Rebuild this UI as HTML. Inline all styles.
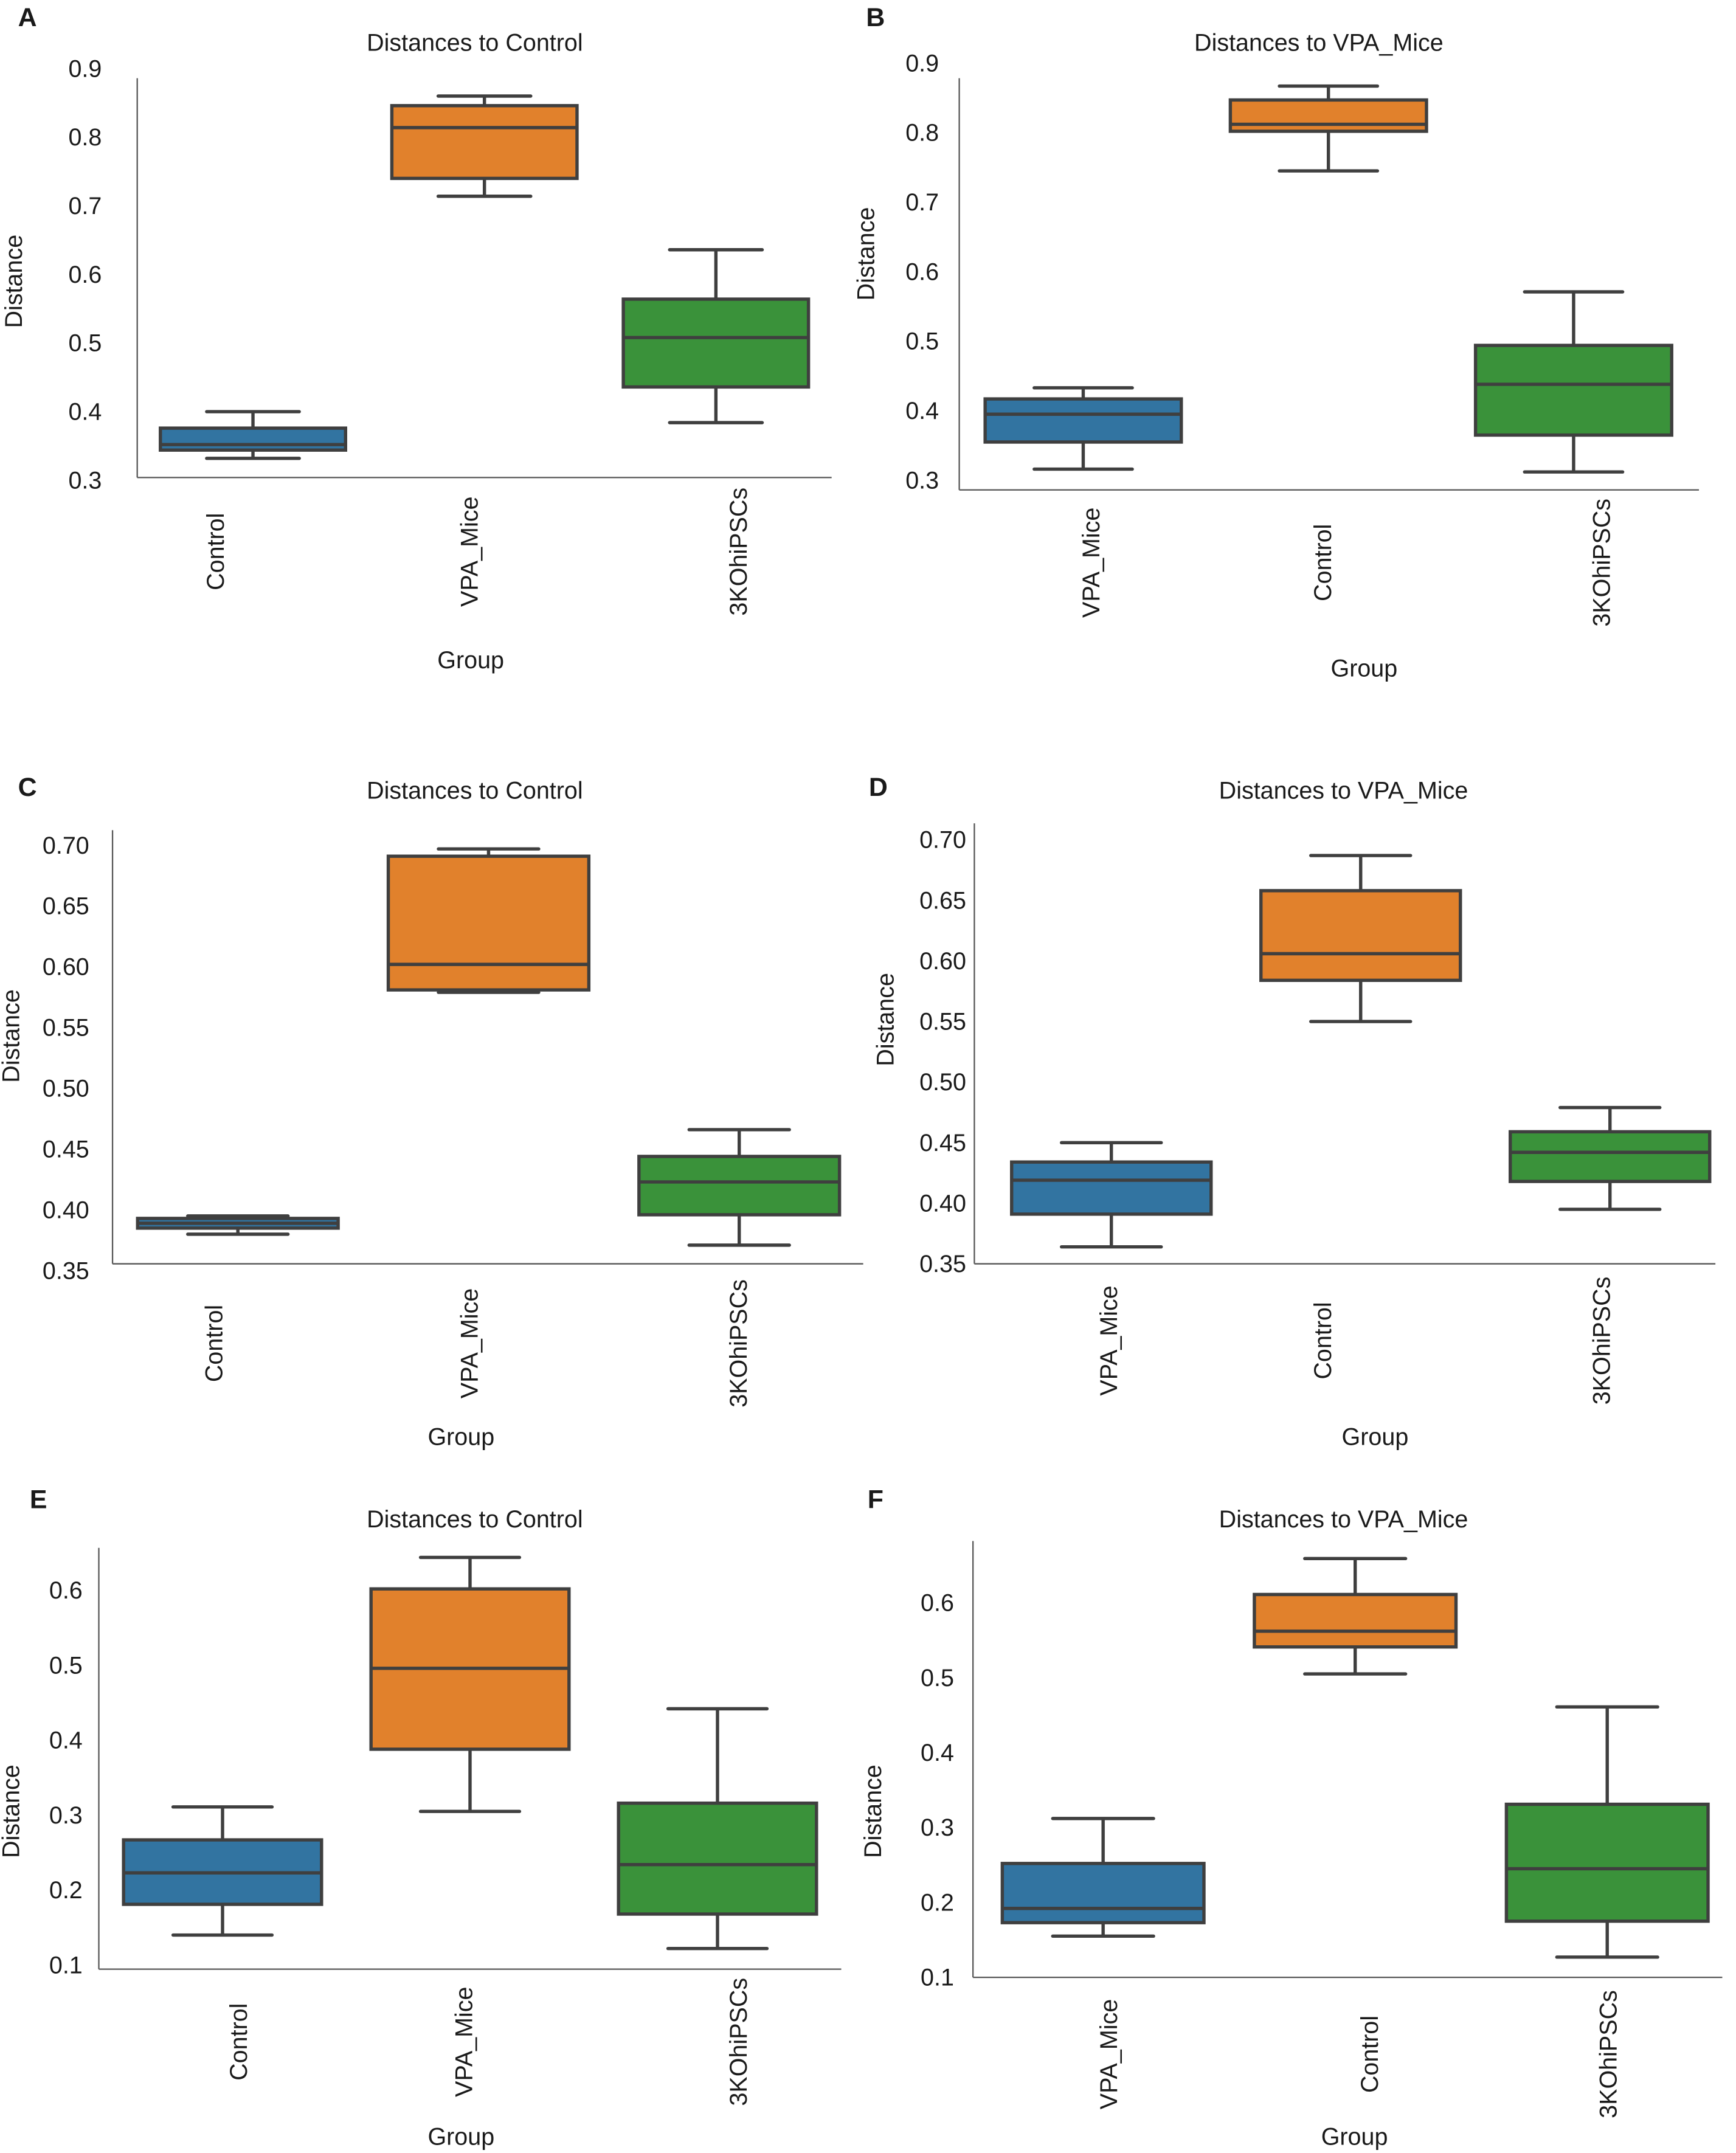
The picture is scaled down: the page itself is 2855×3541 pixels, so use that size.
<!DOCTYPE html>
<html><head><meta charset="utf-8"><style>
html,body{margin:0;padding:0;background:#fff}
svg{display:block}
text{font-family:"Liberation Sans",Arial,sans-serif;fill:#1a1a1a}
</style></head><body>
<svg id="fig" width="2855" height="3541" viewBox="0 0 1265 1569" preserveAspectRatio="none" xmlns="http://www.w3.org/2000/svg"></svg>
<script>
// ---- data ----
const catsA = ["Control","VPA_Mice","3KOhiPSCs"];
const statsA = [[0.332,0.344,0.352,0.376,0.400],[0.714,0.740,0.814,0.846,0.860],[0.384,0.436,0.508,0.564,0.636]];
const ticksA = ["0.9","0.8","0.7","0.6","0.5","0.4","0.3"];
const catsB = ["VPA_Mice","Control","3KOhiPSCs"];
const statsB = [[0.316,0.355,0.395,0.417,0.433],[0.745,0.802,0.812,0.847,0.867],[0.312,0.365,0.438,0.494,0.571]];
const ticksB = ["0.9","0.8","0.7","0.6","0.5","0.4","0.3"];
const catsC = ["Control","VPA_Mice","3KOhiPSCs"];
const statsC = [[0.380,0.385,0.389,0.393,0.395],[0.579,0.581,0.602,0.691,0.697],[0.371,0.396,0.423,0.444,0.466]];
const ticksC = ["0.70","0.65","0.60","0.55","0.50","0.45","0.40","0.35"];
const catsD = ["VPA_Mice","Control","3KOhiPSCs"];
const statsD = [[0.364,0.391,0.419,0.434,0.450],[0.550,0.584,0.606,0.658,0.687],[0.395,0.418,0.442,0.459,0.479]];
const ticksD = ["0.70","0.65","0.60","0.55","0.50","0.45","0.40","0.35"];
const catsE = ["Control","VPA_Mice","3KOhiPSCs"];
const statsE = [[0.140,0.181,0.223,0.267,0.311],[0.305,0.388,0.496,0.602,0.644],[0.122,0.168,0.234,0.316,0.442]];
const ticksE = ["0.6","0.5","0.4","0.3","0.2","0.1"];
const catsF = ["VPA_Mice","Control","3KOhiPSCs"];
const statsF = [[0.155,0.173,0.192,0.252,0.312],[0.505,0.541,0.562,0.611,0.659],[0.127,0.175,0.245,0.331,0.461]];
const ticksF = ["0.6","0.5","0.4","0.3","0.2","0.1"];

const palette = ["#3274a1","#e1812c","#3a923a"];
const NS="http://www.w3.org/2000/svg";
const svg=document.getElementById('fig');
const FS=17.5;
function mk(tag,attrs,parent){const e=document.createElementNS(NS,tag);for(const k in attrs)e.setAttribute(k,attrs[k]);(parent||svg).appendChild(e);return e;}

function panel(p){
  const g=mk('g',{});
  
  
  const ys=v=>p.y0+(v-p.v0)*(p.y1-p.y0)/(p.v1-p.v0);
  let t=mk('text',{x:p.letter[0],y:p.letter[1]+7,'font-size':19,'font-weight':'bold','text-anchor':'middle'},g);t.textContent=p.id;
  
  t=mk('text',{x:p.title[0],y:p.title[1]+6,'font-size':FS,'text-anchor':'middle'},g);t.textContent=p.titleText;
  
  let l=mk('line',{x1:p.ax.l,y1:p.ax.t,x2:p.ax.l,y2:p.ax.b,stroke:'#555','stroke-width':1},g);
  
  l=mk('line',{x1:p.ax.l,y1:p.ax.b,x2:p.ax.r,y2:p.ax.b,stroke:'#555','stroke-width':1},g);
  
  p.ticks.forEach(s=>{
    const tt=mk('text',{x:p.tickX,y:ys(parseFloat(s))+6,'font-size':FS,'text-anchor':'middle'},g);tt.textContent=s;
    
  });
  const n=p.cats.length, step=(p.xr-p.xl)/n, bw=step*0.8;
  p.cats.forEach((c,i)=>{
    const cx=p.xl+step*(i+0.5);
    const s=p.stats[i];
    const bg=mk('g',{},g);
    
    const st={stroke:'#3f3f3f','stroke-width':2.4};
    mk('line',Object.assign({x1:cx,x2:cx,y1:ys(s[0]),y2:ys(s[1])},st),bg);
    mk('line',Object.assign({x1:cx,x2:cx,y1:ys(s[3]),y2:ys(s[4])},st),bg);
    mk('line',Object.assign({x1:cx-bw/4,x2:cx+bw/4,y1:ys(s[0]),y2:ys(s[0]),'stroke-linecap':'round'},st),bg);
    mk('line',Object.assign({x1:cx-bw/4,x2:cx+bw/4,y1:ys(s[4]),y2:ys(s[4]),'stroke-linecap':'round'},st),bg);
    mk('rect',Object.assign({x:cx-bw/2,y:ys(s[3]),width:bw,height:Math.max(ys(s[1])-ys(s[3]),1),fill:palette[i]},st),bg);
    mk('line',Object.assign({x1:cx-bw/2,x2:cx+bw/2,y1:ys(s[2]),y2:ys(s[2])},st),bg);
    const lx=p.labX[i];
    const ct=mk('text',{x:0,y:0,'font-size':FS,'text-anchor':'middle',transform:`translate(${lx+6},${p.catY}) rotate(-90)`},g);ct.textContent=c;
    
  });
  t=mk('text',{x:p.group[0],y:p.group[1]+6,'font-size':FS,'text-anchor':'middle'},g);t.textContent='Group';
  
  t=mk('text',{x:0,y:0,'font-size':FS,'text-anchor':'middle',transform:`translate(${p.dist[0]+6},${p.dist[1]}) rotate(-90)`},g);t.textContent='Distance';
  
}

panel({id:'A',letter:[20,12],title:[346,31],titleText:'Distances to Control',ax:{l:100,t:57,b:348,r:606},xl:100,xr:606,v0:0.3,y0:350,v1:0.9,y1:50,ticks:ticksA,tickX:62,cats:catsA,stats:statsA,labX:[157,342,538],catY:402,group:[343,481],dist:[10,205]});
panel({id:'B',letter:[638,12],title:[961,31],titleText:'Distances to VPA_Mice',ax:{l:699,t:57,b:357,r:1238},xl:700,xr:1236,v0:0.3,y0:350,v1:0.9,y1:46,ticks:ticksB,tickX:672,cats:catsB,stats:statsB,labX:[795,964,1167],catY:410,group:[994,487],dist:[631,185]});
panel({id:'C',letter:[20,573],title:[346,576],titleText:'Distances to Control',ax:{l:82,t:605,b:921,r:629},xl:82,xr:630,v0:0.35,y0:926,v1:0.70,y1:616,ticks:ticksC,tickX:48,cats:catsC,stats:statsC,labX:[156,342,538],catY:979,group:[336,1047],dist:[8,755]});
panel({id:'D',letter:[640,573],title:[979,576],titleText:'Distances to VPA_Mice',ax:{l:710,t:600,b:921,r:1250},xl:719,xr:1264,v0:0.35,y0:921,v1:0.70,y1:612,ticks:ticksD,tickX:687,cats:catsD,stats:statsD,labX:[808,964,1167],catY:977,group:[1002,1047],dist:[645,743]});
panel({id:'E',letter:[28,1092],title:[346,1107],titleText:'Distances to Control',ax:{l:72,t:1128,b:1435,r:613},xl:72,xr:613,v0:0.1,y0:1432,v1:0.6,y1:1159,ticks:ticksE,tickX:48,cats:catsE,stats:statsE,labX:[174,338,538],catY:1488,group:[336,1557],dist:[8,1320]});
panel({id:'F',letter:[638,1092],title:[979,1107],titleText:'Distances to VPA_Mice',ax:{l:709,t:1123,b:1441,r:1255},xl:712,xr:1263,v0:0.1,y0:1441,v1:0.6,y1:1168,ticks:ticksF,tickX:683,cats:catsF,stats:statsF,labX:[808,998,1172],catY:1497,group:[987,1557],dist:[636,1320]});
</script>
</body></html>
